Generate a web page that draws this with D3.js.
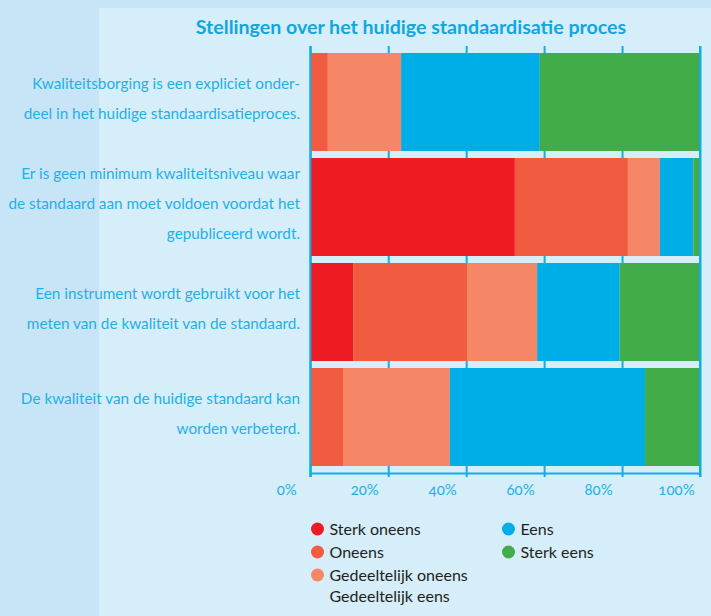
<!DOCTYPE html>
<html>
<head>
<meta charset="utf-8">
<script src="https://cdn.jsdelivr.net/npm/d3@7"></script>
<style>
  body { margin: 0; background: #c7e5f7; }
  svg { display: block; }
</style>
</head>
<body>
<div id="chart"></div>
<script>
// statements (one array of lines per bar)
const statements = [
    ["Kwaliteitsborging is een expliciet onder-", "deel in het huidige standaardisatieproces."],
    ["Er is geen minimum kwaliteitsniveau waar", "de standaard aan moet voldoen voordat het", "gepubliceerd wordt."],
    ["Een instrument wordt gebruikt voor het", "meten van de kwaliteit van de standaard."],
    ["De kwaliteit van de huidige standaard kan", "worden verbeterd."]
];
const seriesKeys = ["sterkOneens", "oneens", "gedeeltelijk", "eens", "sterkEens"];
const seriesLabels = [["Sterk oneens"], ["Oneens"], ["Gedeeltelijk oneens", "Gedeeltelijk eens"], ["Eens"], ["Sterk eens"]];
const seriesColors = ["#ed1c24", "#f15c40", "#f58766", "#00aee7", "#41ac49"];

// percentages per statement
const sterkOneens = [0, 52.5, 11.0, 0];
const oneens = [4.5, 29.0, 29.2, 8.4];
const gedeeltelijk = [18.8, 8.2, 18.0, 27.4];
const eens = [35.6, 8.6, 21.2, 50.1];
const sterkEens = [41.1, 1.7, 20.6, 14.1];

const tickValues = [0, 20, 40, 60, 80, 100];
const title = "Stellingen over het huidige standaardisatie proces";

const width = 711, height = 616;
const blue = "#12ade6";
const textBlue = "#1fb0e8";

const svg = d3.select("#chart").append("svg")
    .attr("width", width)
    .attr("height", height);

// background panel
svg.append("rect").attr("x", 0).attr("y", 0).attr("width", width).attr("height", height).attr("fill", "#c7e5f7");
svg.append("rect").attr("x", 99).attr("y", 8).attr("width", width - 99).attr("height", height - 8).attr("fill", "#d5eef9");

const rows = statements.map((s, i) => ({
    id: i,
    lines: s,
    sterkOneens: sterkOneens[i],
    oneens: oneens[i],
    gedeeltelijk: gedeeltelijk[i],
    eens: eens[i],
    sterkEens: sterkEens[i]
}));

const x = d3.scaleLinear().domain([0, 100]).range([310.3, 700]);
const y = d3.scaleBand().domain(rows.map(d => d.id)).range([49.5, 469.5])
    .paddingInner(0.0667).paddingOuter(0.0333);
const color = d3.scaleOrdinal().domain(seriesKeys).range(seriesColors);

const axisY = 473;
const gridTop = 46;

// gridlines
svg.append("g")
    .attr("transform", `translate(0,${gridTop})`)
    .call(d3.axisTop(x).tickValues(tickValues).tickSize(-(axisY + 4 - gridTop)).tickFormat(""))
    .call(g => g.select(".domain").remove())
    .call(g => g.selectAll("line").attr("stroke", blue).attr("stroke-width", 2));

// bars
const stacked = d3.stack().keys(seriesKeys)(rows);
svg.append("g")
    .selectAll("g")
    .data(stacked)
    .join("g")
    .attr("fill", d => color(d.key))
    .selectAll("rect")
    .data(d => d)
    .join("rect")
    .attr("x", d => x(d[0]))
    .attr("y", d => y(d.data.id))
    .attr("width", d => x(d[1]) - x(d[0]))
    .attr("height", y.bandwidth());

// edge lines on top of bars
svg.append("g")
    .selectAll("line")
    .data([0, 100])
    .join("line")
    .attr("x1", d => x(d)).attr("x2", d => x(d))
    .attr("y1", gridTop).attr("y2", axisY + 4)
    .attr("stroke", blue).attr("stroke-width", 2);

// bottom axis
const xAxis = svg.append("g")
    .attr("transform", `translate(0,${axisY})`)
    .call(d3.axisBottom(x).tickValues(tickValues).tickSize(0).tickPadding(0).tickFormat(d => d + "%"));
xAxis.select(".domain").attr("stroke", blue).attr("stroke-width", 2);
xAxis.selectAll("text")
    .attr("fill", textBlue)
    .attr("font-family", "Lato, 'Open Sans', sans-serif")
    .attr("font-size", 15)
    .style("font-variant-numeric", "oldstyle-nums")
    .attr("dx", -24)
    .attr("dy", 22)
    .attr("y", 0);

// statement labels
const labelFont = "Lato, 'Open Sans', sans-serif";
const lineGap = 30;
svg.append("g")
    .selectAll("text")
    .data(rows)
    .join("text")
    .attr("text-anchor", "end")
    .attr("fill", textBlue)
    .attr("font-family", labelFont)
    .attr("font-size", 15.3)
    .each(function (d) {
        const cy = y(d.id) + y.bandwidth() / 2 + 2;
        const n = d.lines.length;
        d3.select(this).selectAll("tspan")
            .data(d.lines)
            .join("tspan")
            .attr("x", 300)
            .attr("y", (l, i) => cy + (i - (n - 1) / 2) * lineGap)
            .text(l => l);
    });

// title
svg.append("text")
    .attr("x", 411)
    .attr("y", 34)
    .attr("text-anchor", "middle")
    .attr("fill", "#0fa7e1")
    .attr("font-family", labelFont)
    .attr("font-weight", "bold")
    .attr("font-size", 19.6)
    .text(title);

// legend
const legendItems = seriesKeys.map((k, i) => ({ key: k, lines: seriesLabels[i] }));
const legendPos = [
    { x: 317.5, y: 529 }, { x: 317.5, y: 552 }, { x: 317.5, y: 575 },
    { x: 508.5, y: 529 }, { x: 508.5, y: 552 }
];
const legend = svg.append("g")
    .selectAll("g")
    .data(legendItems)
    .join("g")
    .attr("transform", (d, i) => `translate(${legendPos[i].x},${legendPos[i].y})`);
legend.append("circle")
    .attr("r", 6.5)
    .attr("fill", d => color(d.key));
legend.append("text")
    .attr("fill", "#231f20")
    .attr("font-family", labelFont)
    .attr("font-size", 16)
    .selectAll("tspan")
    .data(d => d.lines)
    .join("tspan")
    .attr("x", 12)
    .attr("y", (l, i) => 5.5 + i * 21.5)
    .text(l => l);
</script>
</body>
</html>
